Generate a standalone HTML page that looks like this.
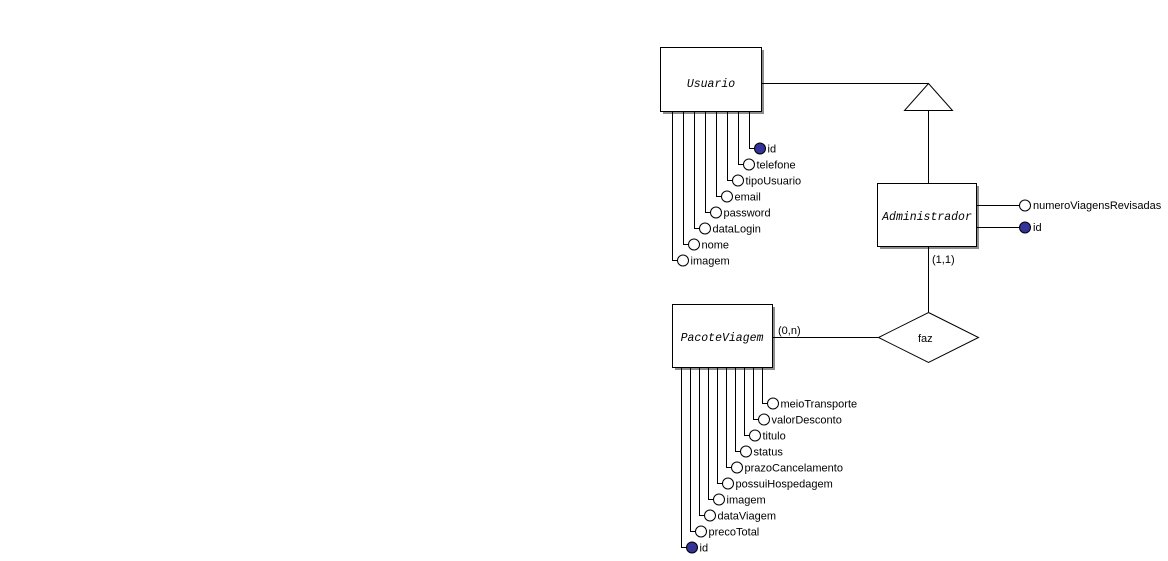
<!DOCTYPE html>
<html><head><meta charset="utf-8"><style>
html,body{margin:0;padding:0;background:#fff;width:1168px;height:561px;overflow:hidden}
svg{display:block}
.t{font-family:"Liberation Sans",Tahoma,sans-serif;font-size:11px;fill:#000}
.e{font-family:"Liberation Mono",monospace;font-style:italic;font-size:11.5px;fill:#000}
</style></head><body>
<svg width="1168" height="561" xmlns="http://www.w3.org/2000/svg">
<g stroke="#000" stroke-width="1" fill="none">
<rect x="663" y="50" width="101" height="64" fill="#8c8c8c" stroke="none"/>
<rect x="660.5" y="47.5" width="101" height="64" fill="#fff"/>
<rect x="880" y="186" width="99" height="63" fill="#8c8c8c" stroke="none"/>
<rect x="877.5" y="183.5" width="99" height="63" fill="#fff"/>
<rect x="675" y="307" width="100" height="63" fill="#8c8c8c" stroke="none"/>
<rect x="672.5" y="304.5" width="100" height="63" fill="#fff"/>
<path d="M762 83.5H928.5"/>
<polygon points="928.5,83.5 952.5,110.5 904.5,110.5" fill="#fff"/>
<path d="M928.5 110.5V183"/>
<path d="M977 205.5H1020"/><path d="M977 227.5H1020"/>
<path d="M928.5 247V312"/>
<path d="M773 337.5H878"/>
<polygon points="928.5,312.5 978.5,337.5 928.5,362.5 878.5,337.5" fill="#fff"/>
</g>
<circle cx="1025" cy="205.5" r="5.5" fill="#fff" stroke="#000"/>
<circle cx="1025" cy="227.5" r="5.5" fill="#333399" stroke="#000"/>
<text class="t" x="1033" y="209">numeroViagensRevisadas</text>
<text class="t" x="1033" y="231">id</text>
<text class="e" x="711" y="87" text-anchor="middle">Usuario</text>
<text class="e" x="927" y="220" text-anchor="middle">Administrador</text>
<text class="e" x="722" y="341" text-anchor="middle">PacoteViagem</text>
<text class="t" x="918" y="342">faz</text>
<text class="t" x="932" y="263">(1,1)</text>
<text class="t" x="778" y="334">(0,n)</text>
<g id="u"></g>
<g id="p"></g>
</svg>
<script>
function attrs(gid, xs, ys, names, ytop, keys){
  var g=document.getElementById(gid), h="";
  for(var i=0;i<xs.length;i++){
    var x=xs[i]+0.5,y=ys[i]+0.5;
    h+='<path d="M'+x+' '+ytop+'V'+y+'H'+(x+5)+'" stroke="#000" fill="none"/>';
    h+='<circle cx="'+(x+10.5)+'" cy="'+y+'" r="5.5" fill="'+(keys[i]?'#333399':'#fff')+'" stroke="#000"/>';
    h+='<text class="t" x="'+(x+18)+'" y="'+(y+4)+'">'+names[i]+'</text>';
  }
  g.innerHTML=h;
}
attrs("u",[672,683,694,705,716,727,738,749],[260,244,228,212,196,180,164,148],
 ["imagem","nome","dataLogin","password","email","tipoUsuario","telefone","id"],112,[0,0,0,0,0,0,0,1]);
attrs("p",[681,690,699,708,717,726,735,744,753,762],[547,531,515,499,483,467,451,435,419,403],
 ["id","precoTotal","dataViagem","imagem","possuiHospedagem","prazoCancelamento","status","titulo","valorDesconto","meioTransporte"],368,[1,0,0,0,0,0,0,0,0,0]);
</script>
</body></html>
